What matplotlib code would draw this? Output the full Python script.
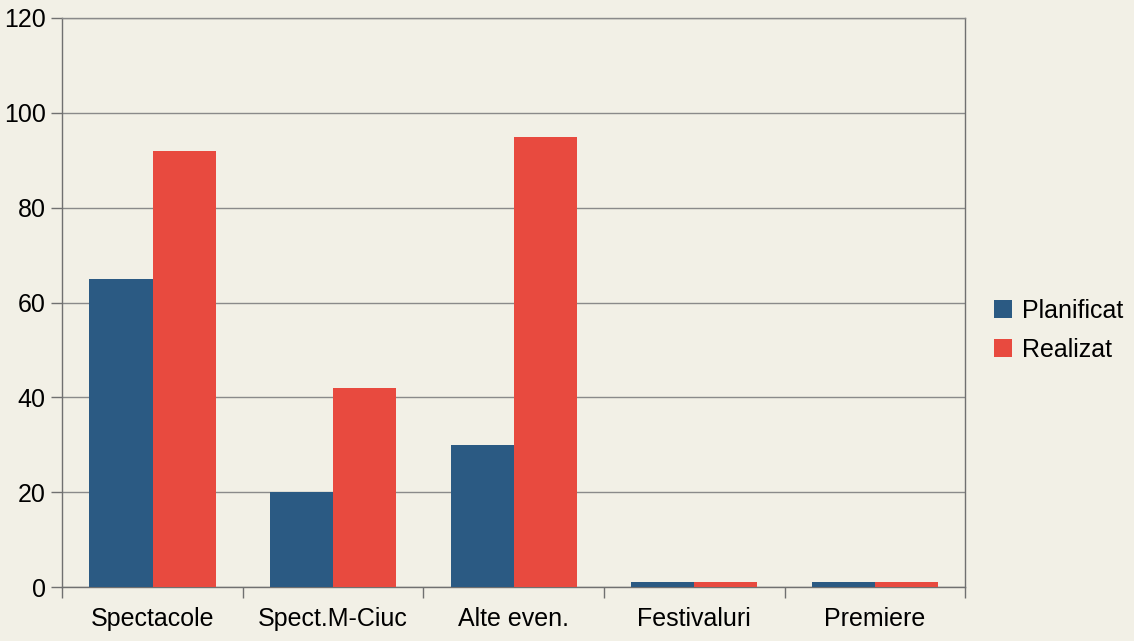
import numpy as np
import matplotlib.pyplot as plt

categories = ["Spectacole", "Spect.M-Ciuc", "Alte even.", "Festivaluri", "Premiere"]
planificat = [65, 20, 30, 1, 1]
realizat = [92, 42, 95, 1, 1]
yticks = [0, 20, 40, 60, 80, 100, 120]

BLUE = "#2b5a83"
RED = "#e84a3f"
PAPER = "#f2f0e6"


def main():
    plt.rcParams["font.family"] = ["Liberation Sans", "DejaVu Sans"]
    fig = plt.figure(figsize=(11.34, 6.41), dpi=100, facecolor=PAPER)
    ax = fig.add_axes([0.055, 0.084, 0.796, 0.888], facecolor=PAPER)

    x = np.arange(len(categories))
    w = 0.35
    ax.bar(x - w / 2, planificat, w, color=BLUE, label="Planificat", zorder=3)
    ax.bar(x + w / 2, realizat, w, color=RED, label="Realizat", zorder=3)

    ax.set_xlim(-0.5, len(categories) - 0.5)
    ax.set_ylim(0, 120)
    ax.set_yticks(yticks)
    ax.yaxis.grid(True, color="#8a8a8a", linewidth=1.0, zorder=0)
    ax.tick_params(axis="y", labelsize=18, length=8, color="#707070", width=1, pad=4)

    ax.set_xticks(x)
    ax.set_xticklabels(categories, fontsize=18)
    ax.tick_params(axis="x", length=0, pad=14)
    ax.set_xticks(np.arange(len(categories) + 1) - 0.5, minor=True)
    ax.tick_params(axis="x", which="minor", length=8, color="#707070", width=1)

    for side in ["left", "bottom", "right", "top"]:
        ax.spines[side].set_color("#707070")
        ax.spines[side].set_linewidth(1.0)
    ax.spines["top"].set_color("#8a8a8a")

    handles, labels = ax.get_legend_handles_labels()
    fig.legend(handles, labels, loc="center left", bbox_to_anchor=(0.857, 0.485),
               frameon=False, fontsize=18, handlelength=0.7, handleheight=0.7,
               handletextpad=0.4, labelspacing=0.6)

    fig.savefig("out.png", dpi=100, facecolor=PAPER)


if __name__ == "__main__":
    main()
